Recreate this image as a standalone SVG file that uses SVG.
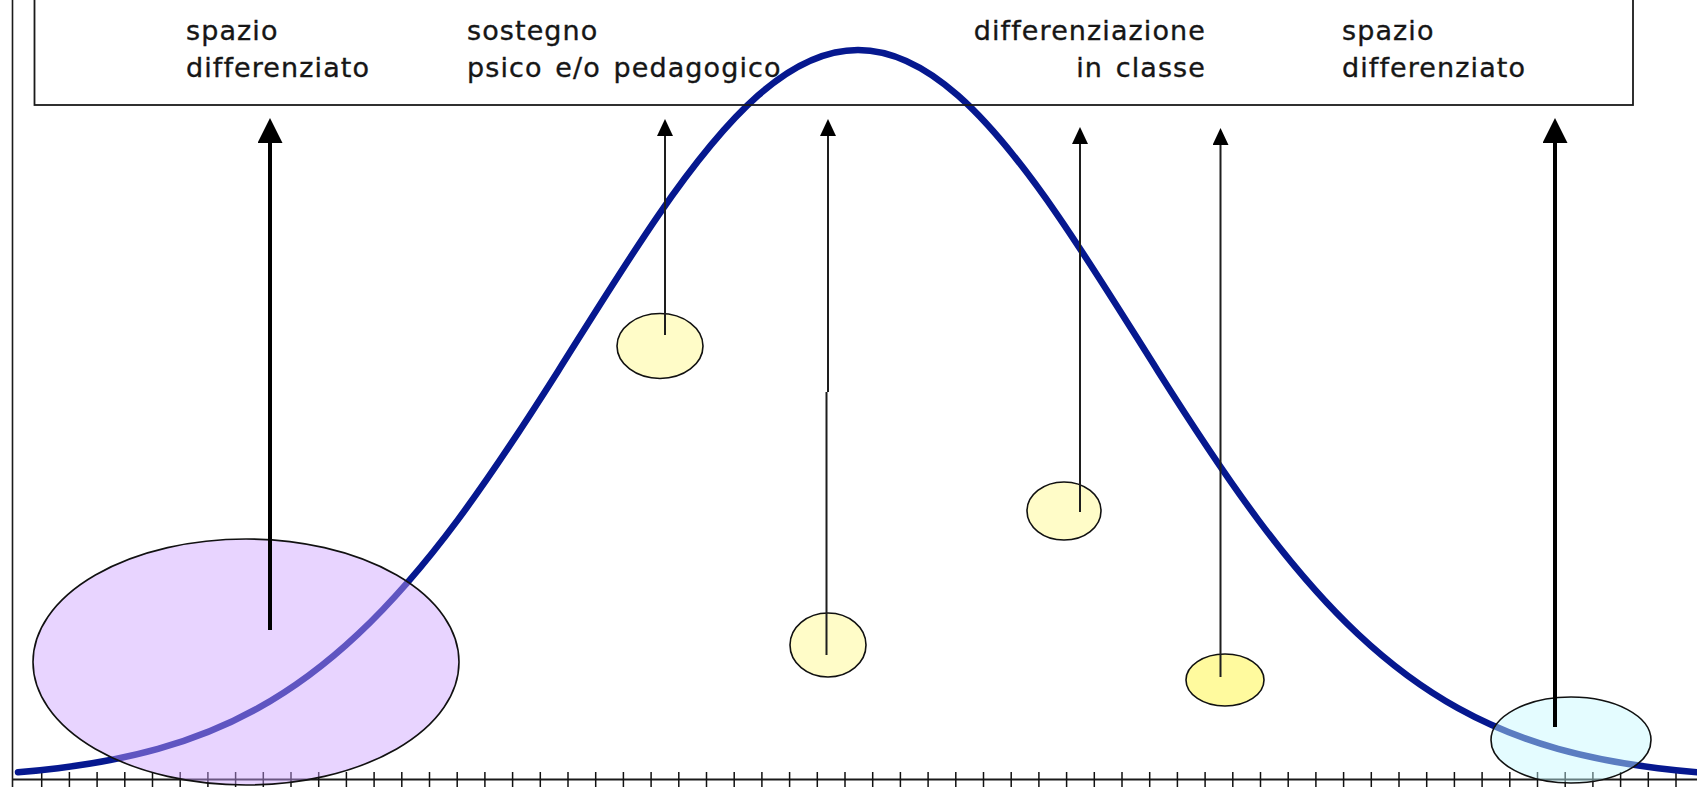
<svg xmlns="http://www.w3.org/2000/svg" width="1697" height="787" viewBox="0 0 1697 787">
<style>
  .lbl{font-family:"DejaVu Sans",Verdana,sans-serif;font-size:27px;letter-spacing:1.1px;word-spacing:3px;fill:#161616;stroke:#161616;stroke-width:0.35}
  .ell{stroke:#111;stroke-width:1.6}
  .thin{stroke:#1e1e1e;stroke-width:2;fill:none;marker-end:url(#hs)}
  .thick{stroke:#000;stroke-width:4;fill:none;marker-end:url(#hl)}
  .tick{stroke:#111;stroke-width:1.5;fill:none}
  .pale{fill:#fffcc8}
</style>
<defs>
  <marker id="hs" markerUnits="userSpaceOnUse" markerWidth="17" markerHeight="16" viewBox="0 0 17 16" refX="7" refY="8" orient="auto"><path d="M0,0 L17,8 L0,16 z" fill="#000"/></marker>
  <marker id="hl" markerUnits="userSpaceOnUse" markerWidth="25" markerHeight="25" viewBox="0 0 25 25" refX="11" refY="12.5" orient="auto"><path d="M0,0 L25,12.5 L0,25 z" fill="#000"/></marker>
</defs>
<rect x="0" y="0" width="1697" height="787" fill="#fff"/>
<g id="axes">
  <path d="M12.5 -1 V787" stroke="#1a1a1a" stroke-width="1.6" fill="none"/>
  <path d="M12.5 779.5 H1697" stroke="#1a1a1a" stroke-width="2" fill="none"/>
  <path class="tick" d="M41.7 772V787M69.4 772V787M97.1 772V787M124.8 772V787M152.5 772V787M180.2 772V787M207.9 772V787M235.6 772V787M263.3 772V787M291 772V787M318.7 772V787M346.4 772V787M374.1 772V787M401.8 772V787M429.5 772V787M457.2 772V787M484.9 772V787M512.6 772V787M540.3 772V787M568 772V787M595.7 772V787M623.4 772V787M651.1 772V787M678.8 772V787M706.5 772V787M734.2 772V787M761.9 772V787M789.6 772V787M817.3 772V787M845 772V787M872.7 772V787M900.4 772V787M928.1 772V787M955.8 772V787M983.5 772V787M1011.2 772V787M1038.9 772V787M1066.6 772V787M1094.3 772V787M1122 772V787M1149.7 772V787M1177.4 772V787M1205.1 772V787M1232.8 772V787M1260.5 772V787M1288.2 772V787M1315.9 772V787M1343.6 772V787M1371.3 772V787M1399 772V787M1426.7 772V787M1454.4 772V787M1482.1 772V787M1509.8 772V787M1537.5 772V787M1565.2 772V787M1592.9 772V787M1620.6 772V787M1648.3 772V787M1676 772V787"/>
</g>
<g id="curve">
  <path d="M18,772.25 C31.33,771.13 44.67,769.8 58,768.17 C91.33,764.11 124.67,758.26 158,748.92 C191.33,739.58 224.67,726.69 258,708.19 C291.33,689.69 324.67,665.47 358,634.15 C391.33,602.83 424.67,564.31 458,519.57 C491.33,474.83 524.67,423.84 558,371.17 C591.33,318.5 624.67,264.27 658,215.81 C691.33,167.35 724.67,124.93 758,95.54 C791.33,66.15 824.67,50 858,50 C891.33,50 924.67,66.15 958,95.54 C991.33,124.93 1024.67,167.35 1058,215.81 C1091.33,264.27 1124.67,318.5 1158,371.17 C1191.33,423.84 1224.67,474.83 1258,519.57 C1291.33,564.31 1324.67,602.83 1358,634.15 C1391.33,665.47 1424.67,689.69 1458,708.19 C1491.33,726.69 1524.67,739.58 1558,748.92 C1591.33,758.26 1624.67,764.11 1658,768.17 C1671.33,769.8 1684.67,771.13 1698,772.25" fill="none" stroke="#06188f" stroke-width="6.5" stroke-linecap="round"/>
</g>
<g id="box">
  <rect x="34.5" y="-5" width="1598.5" height="110" fill="none" stroke="#1a1a1a" stroke-width="1.8"/>
</g>
<g id="node-left-tail">
  <ellipse class="ell" cx="246" cy="662" rx="213" ry="123" fill="#cc9fff" fill-opacity="0.45"/>
</g>
<g id="node-right-tail">
  <ellipse class="ell" cx="1571" cy="740" rx="80" ry="43" fill="#c3f8ff" fill-opacity="0.45"/>
</g>
<g id="node-y1"><ellipse class="ell pale" cx="660" cy="346" rx="43" ry="32.5"/></g>
<g id="node-y2"><ellipse class="ell pale" cx="828" cy="645" rx="38" ry="32"/></g>
<g id="node-y3"><ellipse class="ell pale" cx="1064" cy="511" rx="37" ry="29"/></g>
<g id="node-y4"><ellipse class="ell" cx="1225" cy="680" rx="39" ry="26" fill="#fffa9e"/></g>
<g id="connectors">
  <path class="thick" d="M270 630 V132"/>
  <path class="thin" d="M665 335 V129"/>
  <path class="thin" d="M826.5 655 V392 M828 392 V129"/>
  <path class="thin" d="M1080 512 V137"/>
  <path class="thin" d="M1220.5 677 V138"/>
  <path class="thick" d="M1555 727 V132"/>
</g>
<g id="label-left">
  <text class="lbl" x="186" y="40">spazio</text>
  <text class="lbl" x="186" y="77">differenziato</text>
</g>
<g id="label-sostegno">
  <text class="lbl" x="467" y="40">sostegno</text>
  <text class="lbl" x="467" y="77">psico e/o pedagogico</text>
</g>
<g id="label-classe">
  <text class="lbl" x="1206" y="40" text-anchor="end">differenziazione</text>
  <text class="lbl" x="1206" y="77" text-anchor="end">in classe</text>
</g>
<g id="label-right">
  <text class="lbl" x="1342" y="40">spazio</text>
  <text class="lbl" x="1342" y="77">differenziato</text>
</g>
</svg>
